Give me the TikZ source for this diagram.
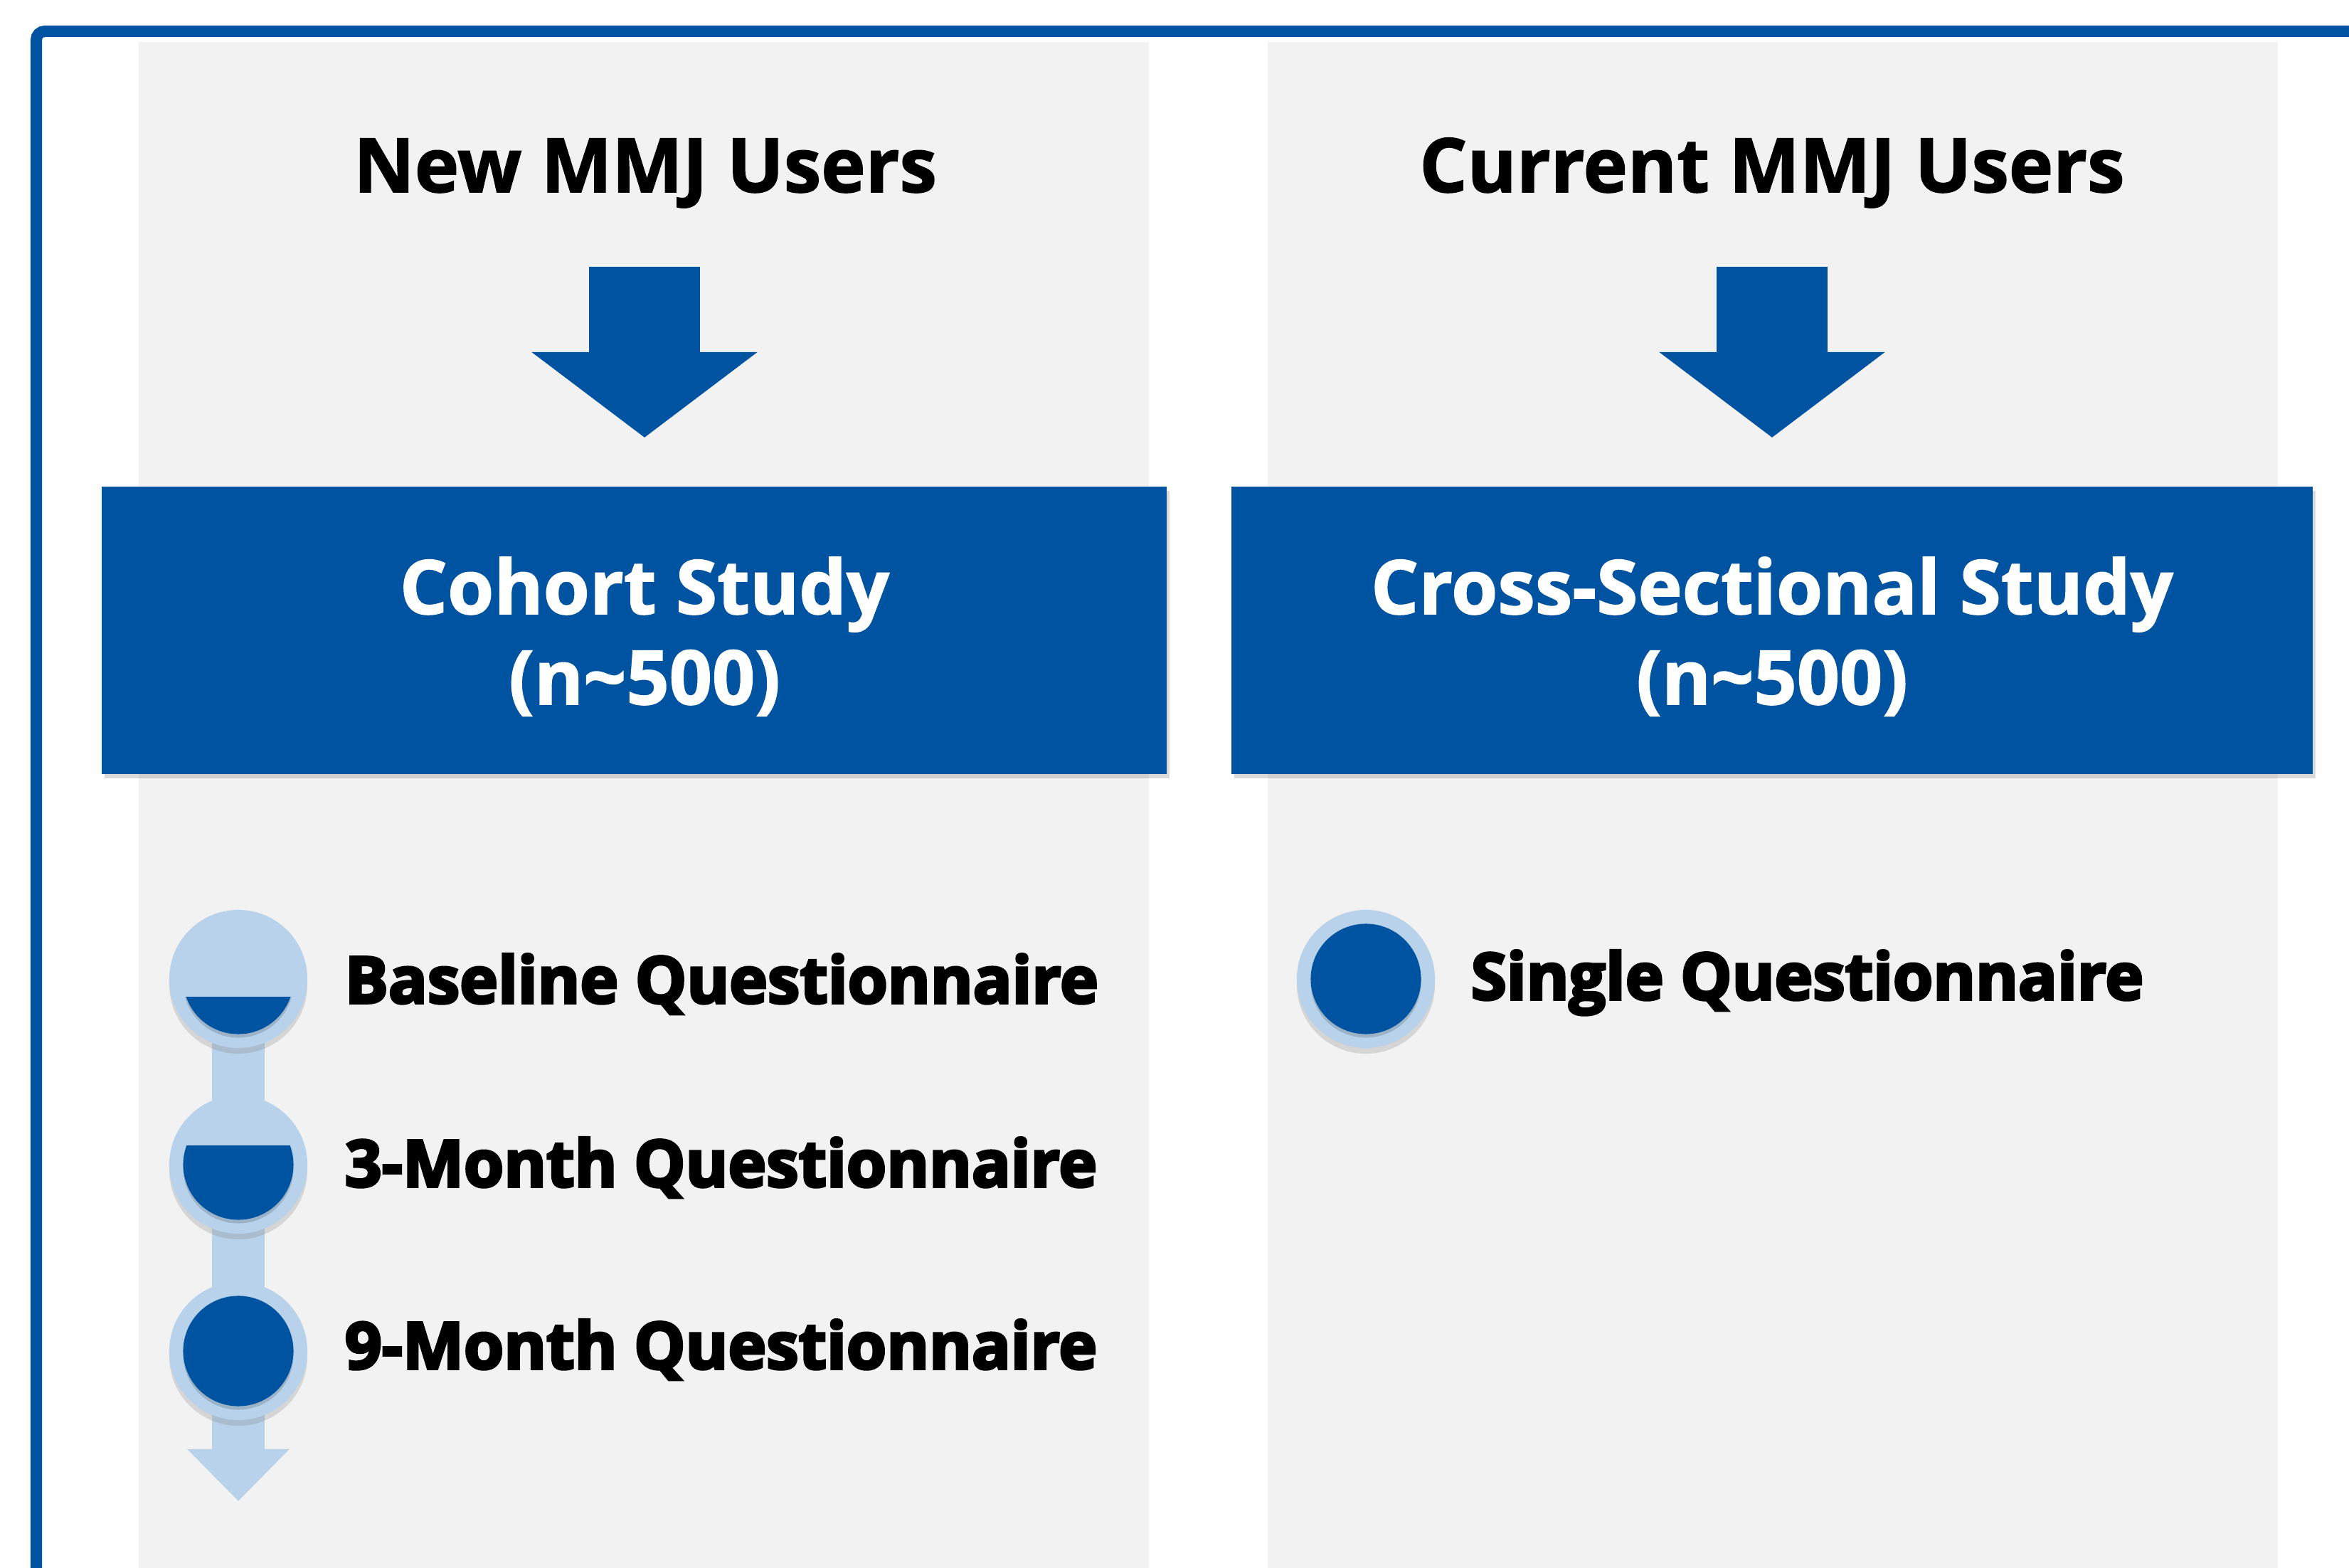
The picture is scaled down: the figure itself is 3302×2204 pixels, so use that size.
\documentclass[tikz,border=0pt]{standalone}
\usepackage{fontspec}
\setmainfont{Open Sans}
\newfontfamily\heavyfont{Open Sans}[UprightFont=* Bold, FakeBold=4]
\newfontfamily\titlefont{Open Sans}[UprightFont=* Bold, FakeBold=1.5]
\usetikzlibrary{arrows.meta, shadows}
\definecolor{mmjblue}{RGB}{0,83,160}
\definecolor{mmjlight}{RGB}{183,210,234}
\definecolor{panelgray}{RGB}{242,242,242}
\newcommand{\titlesize}{\fontsize{30}{36}\selectfont}
\newcommand{\labelsize}{\fontsize{25.9}{30}\selectfont}
\newcommand{\rin}{0.775cm}

\begin{document}
\begin{tikzpicture}[x=0.01cm, y=-0.01cm,
    heading/.style={anchor=base, inner sep=0pt, font=\titlesize\titlefont},
    boxtext/.style={anchor=base, inner sep=0pt, text=white, font=\titlesize\titlefont},
    qlabel/.style={anchor=base west, inner sep=0pt, font=\labelsize\heavyfont},
    studybox/.style={fill=mmjblue, inner sep=0pt, minimum height=4.04cm,
        drop shadow={shadow xshift=0.4mm, shadow yshift=-0.6mm, opacity=0.3}},
    outer/.style={circle, fill=mmjlight, inner sep=0pt, minimum size=1.94cm,
        drop shadow={shadow xshift=0mm, shadow yshift=-0.8mm, opacity=0.25}},
    bigarrow/.style={mmjblue, line width=1.55cm,
        -{Triangle[width=3.11cm, length=1.2cm]}},
    timeline/.style={mmjlight, line width=0.73cm,
        -{Triangle[width=1.39cm, length=0.73cm]}}]
    \useasboundingbox (0,0) rectangle (3302,2204);

    % frame and panels
    \draw[mmjblue, line width=0.16cm, rounded corners=0.12cm] (51,2300) -- (51,44) -- (3400,44);
    \fill[panelgray] (195,59) rectangle (1615,2204);
    \fill[panelgray] (1782,59) rectangle (3202,2204);

    % headings
    \node [heading] (new) at (907,270) {New MMJ Users};
    \node [heading] (current) at (2491,270) {Current MMJ Users};

    % arrows down
    \coordinate (newtop) at (906,375);
    \coordinate (newtip) at (906,615);
    \coordinate (curtop) at (2491,375);
    \coordinate (curtip) at (2491,615);
    \draw [bigarrow] (newtop) -- (newtip);
    \draw [bigarrow] (curtop) -- (curtip);

    % study boxes
    \node [studybox, minimum width=14.97cm] (cohort) at (891.5,886) {};
    \node [studybox, minimum width=15.2cm] (cross) at (2491,886) {};
    \node [boxtext] (cohorttitle) at (906,863) {Cohort Study};
    \node [boxtext] (cohortn) at (906,990) {(n\textasciitilde500)};
    \node [boxtext] (crosstitle) at (2491,863) {Cross-Sectional Study};
    \node [boxtext] (crossn) at (2491,990) {(n\textasciitilde500)};

    % timeline
    \coordinate (timeend) at (335,2110);
    \draw [timeline] (335,1376) -- (timeend);
    \node [outer] (base) at (335,1376) {};
    \node [outer] (month3) at (335,1637) {};
    \node [outer] (month9) at (335,1899) {};
    \node [outer] (single) at (1920,1376) {};

    % filling of the circles
    \begin{scope}
        \clip (200,1401) rectangle (470,1500);
        \fill [black, opacity=0.15] (335,1381) circle [radius=\rin];
        \fill [mmjblue] (base) circle [radius=\rin];
    \end{scope}
    \begin{scope}
        \clip (200,1610) rectangle (470,1760);
        \fill [black, opacity=0.15] (335,1642) circle [radius=\rin];
        \fill [mmjblue] (month3) circle [radius=\rin];
    \end{scope}
    \fill [black, opacity=0.15] (335,1904) circle [radius=\rin];
    \fill [mmjblue] (month9) circle [radius=\rin];
    \fill [black, opacity=0.15] (1920,1381) circle [radius=\rin];
    \fill [mmjblue] (single) circle [radius=\rin];

    % labels
    \node [qlabel] (baselbl) at (484,1410) {Baseline Questionnaire};
    \node [qlabel] (month3lbl) at (484,1668) {3-Month Questionnaire};
    \node [qlabel] (month9lbl) at (484,1924) {9-Month Questionnaire};
    \node [qlabel] (singlelbl) at (2067,1405) {Single Questionnaire};
\end{tikzpicture}
\end{document}
